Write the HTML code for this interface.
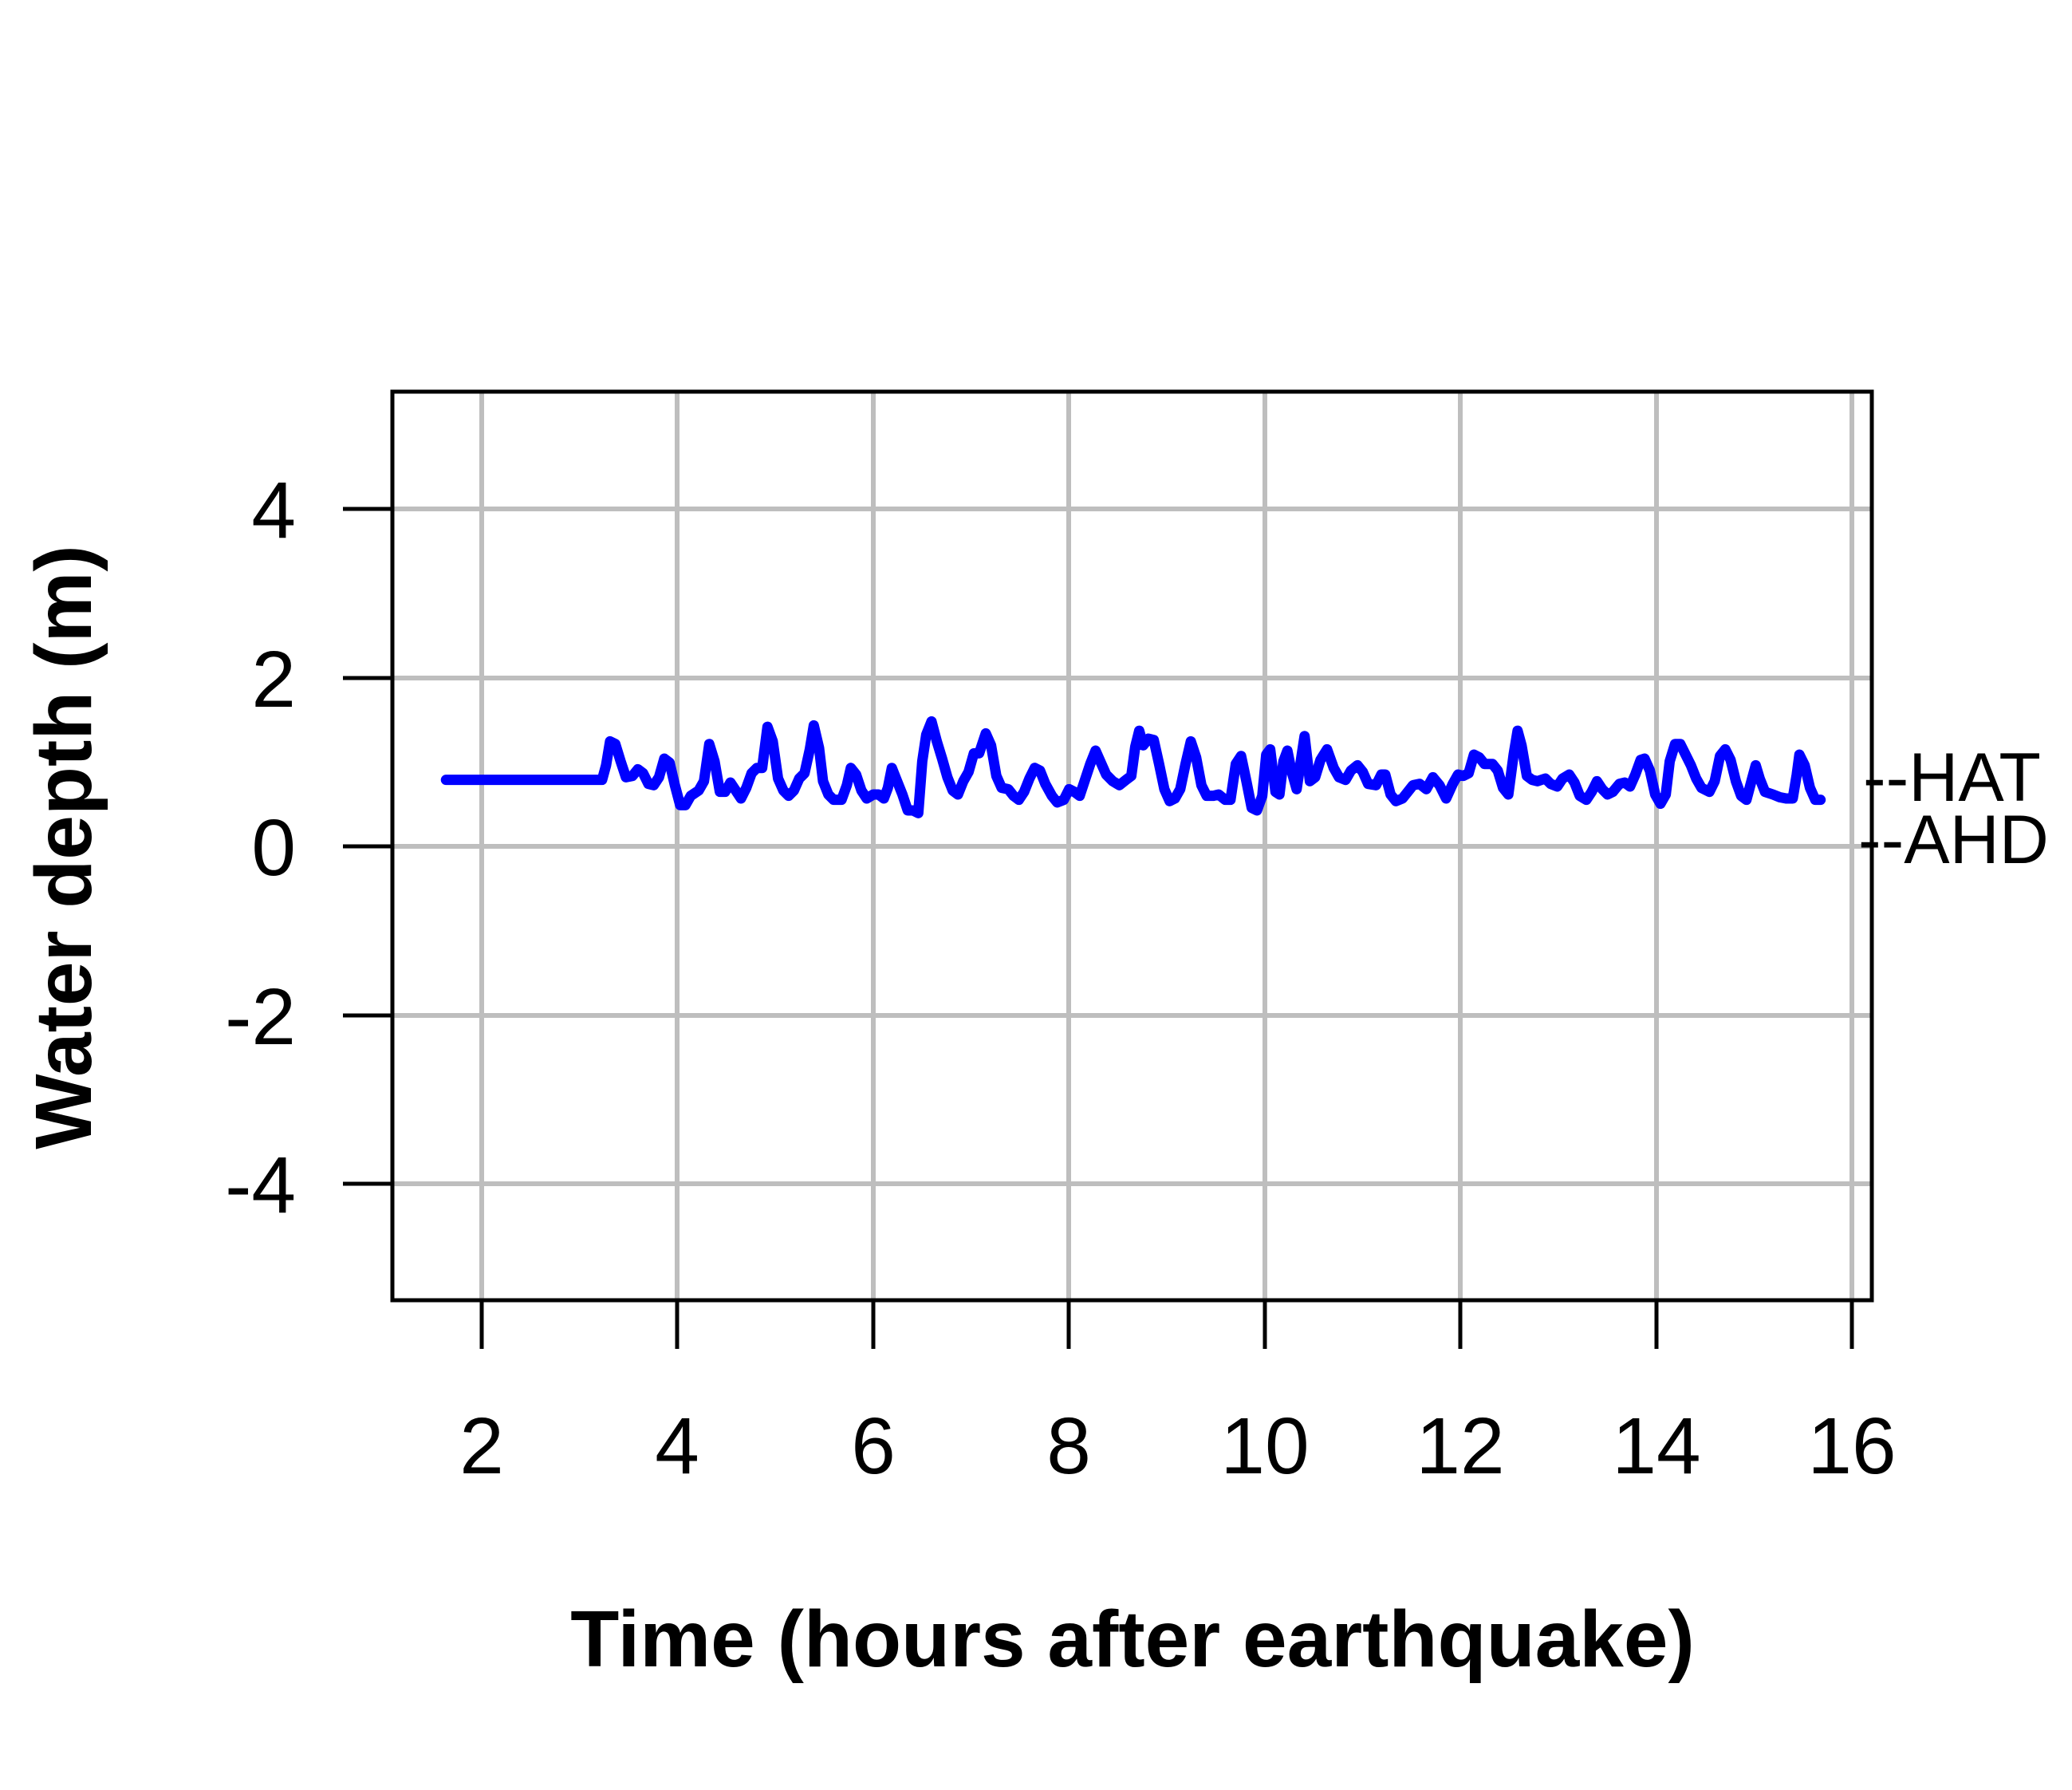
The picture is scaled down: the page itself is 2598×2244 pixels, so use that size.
<!DOCTYPE html>
<html><head><meta charset="utf-8"><style>html,body{margin:0;padding:0;background:#fff}svg{display:block}text{font-family:"Liberation Sans",Arial,sans-serif}</style></head>
<body>
<svg width="2598" height="2244" viewBox="0 0 2598 2244" xmlns="http://www.w3.org/2000/svg">
<rect width="2598" height="2244" fill="#fff"/>
<g stroke="#bebebe" stroke-width="6">
<line x1="604" y1="491" x2="604" y2="1630"/><line x1="849" y1="491" x2="849" y2="1630"/><line x1="1095" y1="491" x2="1095" y2="1630"/><line x1="1340" y1="491" x2="1340" y2="1630"/><line x1="1586" y1="491" x2="1586" y2="1630"/><line x1="1831" y1="491" x2="1831" y2="1630"/><line x1="2077" y1="491" x2="2077" y2="1630"/><line x1="2322" y1="491" x2="2322" y2="1630"/>
<line x1="492" y1="638" x2="2347" y2="638"/><line x1="492" y1="850" x2="2347" y2="850"/><line x1="492" y1="1061" x2="2347" y2="1061"/><line x1="492" y1="1273" x2="2347" y2="1273"/><line x1="492" y1="1484" x2="2347" y2="1484"/>
</g>
<g transform="matrix(1.6588 0 0 1.665 0.2 -3)">
<polyline fill="none" stroke="#0000ff" stroke-width="13" vector-effect="non-scaling-stroke" stroke-linejoin="round" stroke-linecap="round" points="337,589 455,589 458,578 461,560 465,562 469,575 473,587 478,586 482,581 486,584 490,592 494,593 498,587 502,573 506,576 510,593 514,608 518,608 522,601 528,597 532,590 536,562 540,575 544,598 548,598 552,591 556,597 560,603 564,595 568,584 572,580 576,580 580,549 584,560 588,588 592,597 596,601 600,597 604,588 608,584 612,566 615,548 619,565 622,590 626,600 630,604 636,604 640,593 643,580 647,585 651,597 655,603 660,600 664,600 668,603 671,595 674,580 678,590 682,600 686,612 690,612 694,614 697,575 700,555 704,545 708,560 712,573 716,587 720,597 724,600 728,590 732,583 736,569 740,569 745,554 749,563 753,586 757,595 762,596 766,601 770,604 774,598 778,588 782,580 786,582 790,592 795,601 799,606 804,604 808,596 812,598 816,601 820,589 824,577 828,567 832,576 836,585 841,590 846,593 851,589 855,586 858,564 861,552 864,563 868,558 872,559 876,577 880,596 884,605 888,603 892,596 896,577 900,560 904,572 908,593 912,601 917,601 921,600 926,604 930,604 934,577 938,571 942,590 946,610 950,612 954,601 957,570 960,566 964,598 967,600 970,575 973,567 976,582 980,596 984,569 986,556 990,590 994,587 998,574 1003,566 1008,580 1012,587 1017,589 1021,582 1026,578 1030,583 1034,592 1040,593 1044,585 1047,585 1051,600 1055,605 1060,603 1064,598 1068,593 1073,592 1078,596 1083,587 1088,593 1093,603 1098,592 1102,585 1106,586 1110,584 1114,570 1118,572 1122,577 1128,577 1132,582 1136,595 1140,600 1144,570 1147,552 1150,563 1154,586 1158,589 1162,590 1168,588 1172,592 1177,594 1181,588 1186,585 1190,591 1194,601 1199,604 1203,598 1207,590 1211,596 1215,600 1219,598 1224,592 1228,591 1232,594 1236,585 1240,574 1243,573 1247,582 1251,600 1255,607 1259,600 1262,575 1266,562 1270,562 1274,570 1278,578 1282,588 1286,595 1292,598 1296,590 1300,571 1304,566 1308,574 1312,590 1316,601 1320,604 1324,589 1327,578 1330,588 1334,598 1340,600 1345,602 1350,603 1355,603 1358,585 1360,570 1364,578 1368,595 1372,604 1376,604"/>
</g>
<rect x="492" y="491" width="1855" height="1139" fill="none" stroke="#000" stroke-width="5"/>
<g stroke="#000" stroke-width="5">
<line x1="604" y1="1630" x2="604" y2="1691"/><line x1="849" y1="1630" x2="849" y2="1691"/><line x1="1095" y1="1630" x2="1095" y2="1691"/><line x1="1340" y1="1630" x2="1340" y2="1691"/><line x1="1586" y1="1630" x2="1586" y2="1691"/><line x1="1831" y1="1630" x2="1831" y2="1691"/><line x1="2077" y1="1630" x2="2077" y2="1691"/><line x1="2322" y1="1630" x2="2322" y2="1691"/>
<line x1="430" y1="638" x2="492" y2="638"/><line x1="430" y1="850" x2="492" y2="850"/><line x1="430" y1="1061" x2="492" y2="1061"/><line x1="430" y1="1273" x2="492" y2="1273"/><line x1="430" y1="1484" x2="492" y2="1484"/>
</g>
<g font-size="100" text-anchor="end" fill="#000">
<text x="371" y="674">4</text><text x="371" y="886">2</text><text x="371" y="1097">0</text><text x="371" y="1309">-2</text><text x="371" y="1520">-4</text>
</g>
<g font-size="100" text-anchor="middle" fill="#000">
<text x="604" y="1847">2</text><text x="849" y="1847">4</text><text x="1095" y="1847">6</text><text x="1340" y="1847">8</text><text x="1586" y="1847">10</text><text x="1831" y="1847">12</text><text x="2077" y="1847">14</text><text x="2322" y="1847">16</text>
</g>
<text x="1420" y="2089" font-size="100" font-weight="bold" text-anchor="middle">Time (hours after earthquake)</text>
<text transform="translate(114,1062) rotate(-90)" font-size="100" font-weight="bold" text-anchor="middle">Water depth (m)</text>
<text x="2336" y="1004" font-size="86">--HAT</text>
<text x="2330" y="1082" font-size="86">--AHD</text>
</svg>
</body></html>
